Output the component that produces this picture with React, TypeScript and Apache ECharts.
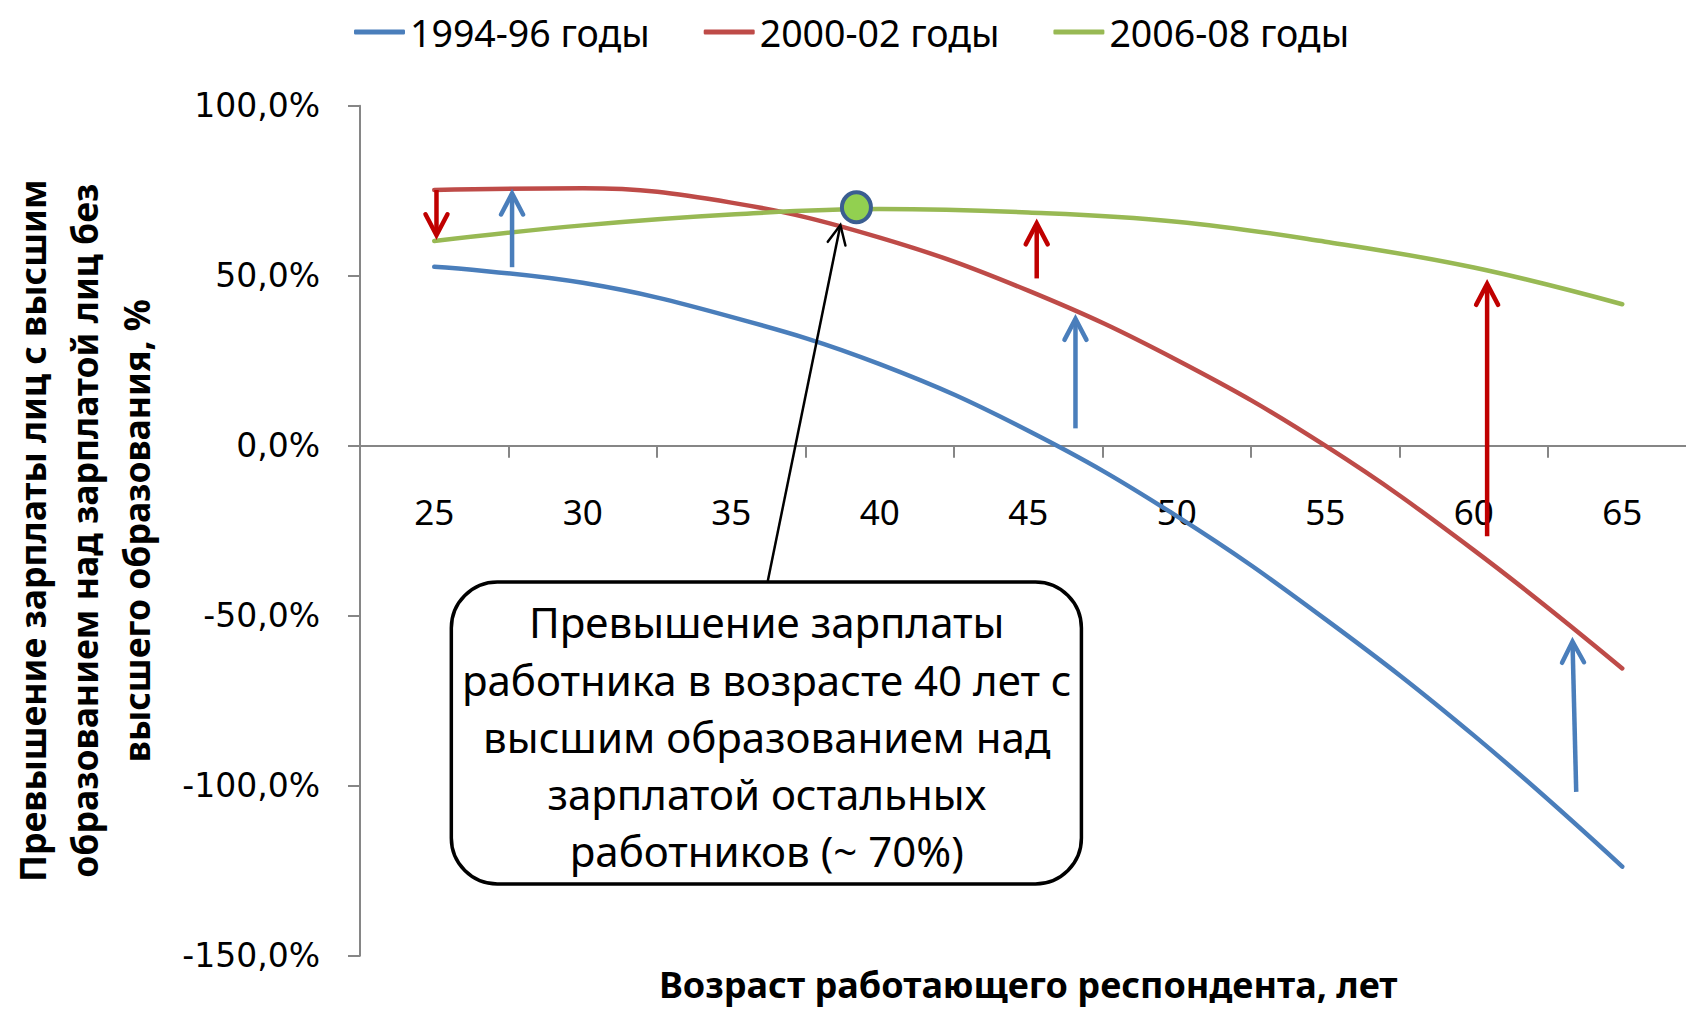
import React, { useEffect, useRef } from 'react';
import * as echarts from 'echarts';

// ---------- data ----------
const ages = ['25', '30', '35', '40', '45', '50', '55', '60', '65'];
const seriesNames = ['1994-96 годы', '2000-02 годы', '2006-08 годы'];
const values1994 = [52.6, 47.9, 37.9, 24.0, 4.4, -20.7, -51.0, -85.2, -123.8];
const values2000 = [75.2, 75.7, 71.5, 61.2, 45.6, 25.2, 0.0, -30.7, -65.5];
const values2006 = [60.2, 64.8, 68.0, 69.6, 68.6, 65.9, 60.0, 52.4, 41.6];
const yMin = -150;
const yMax = 100;
const yStep = 50;

const xTitle = 'Возраст работающего респондента, лет';
const yTitle = 'Превышение зарплаты лиц с высшим\nобразованием над зарплатой лиц без\nвысшего образования, %';
const calloutText =
  'Превышение зарплаты\nработника в возрасте 40 лет с\nвысшим образованием над\nзарплатой остальных\nработников (~ 70%)';

// annotation positions in data space: [category index (fractional), value %]
type Pt = [number, number];
const arrowsRed: { from: Pt; to: Pt }[] = [
  { from: [0.015, 75.2], to: [0.015, 61.9] },
  { from: [4.057, 49.2], to: [4.057, 65.4] },
  { from: [7.09, -26.6], to: [7.09, 47.6] },
];
const arrowsBlue: { from: Pt; to: Pt }[] = [
  { from: [0.524, 52.5], to: [0.524, 74.2] },
  { from: [4.318, 5.1], to: [4.318, 37.3] },
  { from: [7.69, -101.8], to: [7.665, -57.6] },
];
const highlightPoint: Pt = [2.843, 70.1];
const pointerFrom: Pt = [2.246, -39.8];
const pointerTo: Pt = [2.735, 64.9];
const boxTopLeft: Pt = [0.115, -40.1];
const boxBottomRight: Pt = [4.358, -128.9];
const boxTextCenter: Pt = [2.239, -85.5];

const COLORS = ['#4A7EBB', '#BE4B48', '#98B954'];
const RED_ARROW = '#C00000';
const BLUE_ARROW = '#4A7EBB';
const SANS = '"Noto Sans", "Open Sans", sans-serif';

const GRID_TOP = 105.7;
const GRID_HEIGHT = 850;

function arrow(p0: number[], p1: number[], color: string, width: number, headLen: number, headHalf: number, z: number) {
  const dx = p1[0] - p0[0];
  const dy = p1[1] - p0[1];
  const len = Math.hypot(dx, dy);
  const ux = dx / len;
  const uy = dy / len;
  const bx = p1[0] - ux * headLen;
  const by = p1[1] - uy * headLen;
  const nx = -uy;
  const ny = ux;
  return [
    {
      type: 'line',
      z,
      silent: true,
      shape: { x1: p0[0], y1: p0[1], x2: p1[0] - ux * 1, y2: p1[1] - uy * 1 },
      style: { stroke: color, lineWidth: width, lineCap: 'butt' },
    },
    {
      type: 'polyline',
      z,
      silent: true,
      shape: {
        points: [
          [bx + nx * headHalf, by + ny * headHalf],
          [p1[0], p1[1]],
          [bx - nx * headHalf, by - ny * headHalf],
        ],
      },
      style: { stroke: color, lineWidth: width, lineCap: 'round', lineJoin: 'miter', fill: null },
    },
  ];
}

export default function App() {
  const ref = useRef<HTMLDivElement>(null);

  useEffect(() => {
    document.body.style.margin = '0';
    document.body.style.overflow = 'hidden';
    const chart = echarts.init(ref.current!, null, { renderer: 'svg' });

    const mkSeries = (name: string, data: number[], color: string) => ({
      name,
      type: 'line',
      data,
      smooth: 0.4,
      symbol: 'none',
      color,
      lineStyle: { color, width: 4.5, cap: 'round' },
      z: 3,
    });

    // the category axis crosses the value axis at 0
    const zeroOffset = -GRID_HEIGHT * (0 - yMin) / (yMax - yMin);

    chart.setOption({
      animation: false,
      backgroundColor: '#ffffff',
      textStyle: { fontFamily: SANS },
      legend: {
        left: 349,
        top: 8,
        itemWidth: 51,
        itemHeight: 5,
        itemGap: 54,
        icon: 'roundRect',
        data: seriesNames,
        textStyle: { fontSize: 37.5, color: '#000', fontFamily: SANS },
      },
      grid: {
        left: 360,
        top: GRID_TOP,
        width: 1336.5,
        height: GRID_HEIGHT,
        containLabel: false,
        outerBoundsMode: 'none',
      },
      xAxis: {
        type: 'category',
        data: ages,
        boundaryGap: true,
        offset: zeroOffset,
        name: xTitle,
        nameLocation: 'middle',
        nameGap: 521,
        nameTextStyle: { fontSize: 36, fontWeight: 'bold', color: '#000', fontFamily: SANS },
        axisLine: { onZero: false, lineStyle: { color: '#868686', width: 2 } },
        axisTick: { show: true, interval: 0, alignWithLabel: false, length: 12, lineStyle: { color: '#868686', width: 2 } },
        axisLabel: { interval: 0, fontSize: 35, color: '#000', margin: 48, fontFamily: SANS },
        splitLine: { show: false },
      },
      yAxis: {
        type: 'value',
        min: yMin,
        max: yMax,
        interval: yStep,
        name: yTitle,
        nameLocation: 'middle',
        nameGap: 198,
        nameTextStyle: { fontSize: 35.5, fontWeight: 'bold', color: '#000', fontFamily: SANS, lineHeight: 52 },
        axisLine: { show: true, onZero: false, lineStyle: { color: '#868686', width: 2 } },
        axisTick: { show: true, length: 12, lineStyle: { color: '#868686', width: 2 } },
        axisLabel: {
          fontSize: 33,
          color: '#000',
          margin: 40,
          fontFamily: '"DejaVu Sans", Verdana, sans-serif',
          formatter: (v: number) => v.toFixed(1).replace('.', ',') + '%',
        },
        splitLine: { show: false },
      },
      series: [
        mkSeries(seriesNames[0], values1994, COLORS[0]),
        mkSeries(seriesNames[1], values2000, COLORS[1]),
        mkSeries(seriesNames[2], values2006, COLORS[2]),
      ],
    });

    const x0 = chart.convertToPixel({ xAxisIndex: 0 }, 0) as unknown as number;
    const x1 = chart.convertToPixel({ xAxisIndex: 0 }, 1) as unknown as number;
    const band = x1 - x0;
    const toPx = (p: Pt): number[] => {
      const y = chart.convertToPixel({ yAxisIndex: 0 }, p[1]) as unknown as number;
      return [x0 + p[0] * band, y];
    };

    const graphics: any[] = [];
    arrowsRed.forEach((a) => graphics.push(...arrow(toPx(a.from), toPx(a.to), RED_ARROW, 4.5, 21, 11, 40)));
    arrowsBlue.forEach((a) => graphics.push(...arrow(toPx(a.from), toPx(a.to), BLUE_ARROW, 4.5, 21, 11, 40)));

    const hp = toPx(highlightPoint);
    graphics.push({
      type: 'ellipse',
      z: 60,
      silent: true,
      shape: { cx: hp[0], cy: hp[1], rx: 14.5, ry: 15 },
      style: { fill: '#92D050', stroke: '#3B5E91', lineWidth: 4 },
    });

    graphics.push(...arrow(toPx(pointerFrom), toPx(pointerTo), '#000000', 2.5, 19, 9, 70));

    const tl = toPx(boxTopLeft);
    const br = toPx(boxBottomRight);
    graphics.push({
      type: 'rect',
      z: 80,
      silent: true,
      shape: { x: tl[0], y: tl[1], width: br[0] - tl[0], height: br[1] - tl[1], r: 46 },
      style: { fill: '#ffffff', stroke: '#000000', lineWidth: 3.5 },
    });
    const tc = toPx(boxTextCenter);
    graphics.push({
      type: 'text',
      z: 90,
      silent: true,
      x: tc[0],
      y: tc[1],
      style: {
        text: calloutText,
        font: '42px "Noto Sans", "Open Sans", sans-serif',
        fill: '#000000',
        align: 'center',
        verticalAlign: 'middle',
        lineHeight: 57.3,
      },
    });

    chart.setOption({ graphic: graphics });

    return () => chart.dispose();
  }, []);

  return <div ref={ref} style={{ width: 1686, height: 1009 }} />;
}
